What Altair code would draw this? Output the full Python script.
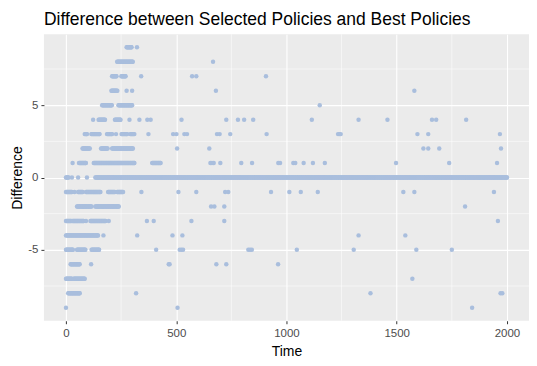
import altair as alt
import pandas as pd

# Dense runs (value, first time, last time)
RUN_DIFF = [9, 9, 8, 7, 7, 7, 6, 6, 6, 5, 5,
            4, 4, 4, 4, 4, 4, 4,
            3, 3, 3, 3, 3, 3, 3,
            2, 2, 2,
            1, 1, 1, 1,
            0, 0, 0, 0, 0,
            -1, -1, -1, -1, -1, -1, -1,
            -2, -2,
            -3, -3, -3, -3, -3, -3, -3,
            -4, -4, -4,
            -5, -5, -5, -5,
            -6, -6, -6,
            -7, -7,
            -8, -8,
            -9]
RUN_START = [275, 322, 232, 209, 251, 341, 206, 275, 300, 164, 238,
             123, 148, 222, 288, 333, 369, 384,
             85, 115, 186, 227, 252, 292, 374,
             75, 159, 209,
             30, 59, 126, 391,
             0, 27, 55, 95, 133,
             0, 39, 55, 91, 191, 232, 342,
             50, 133,
             0, 30, 91, 111, 194, 367, 398,
             0, 170, 323,
             0, 50, 116, 409,
             21, 114, 466,
             0, 35,
             10, 318,
             0]
RUN_END = [297, 322, 303, 229, 270, 341, 233, 275, 300, 208, 300,
           123, 177, 247, 288, 333, 369, 384,
           95, 152, 209, 227, 277, 310, 374,
           108, 189, 303,
           30, 90, 310, 429,
           12, 27, 55, 95, 2000,
           27, 39, 76, 156, 221, 259, 342,
           116, 239,
           24, 80, 91, 179, 194, 367, 398,
           145, 170, 323,
           31, 88, 150, 409,
           62, 114, 466,
           26, 85,
           62, 318,
           0]

# Isolated points
SPARSE_TIME = [667,
               572, 591, 907,
               680, 1580,
               1151,
               524, 727, 780, 808, 849, 1115, 1327, 1458, 1660, 1679, 1815,
               486, 501, 537, 549, 685, 697, 745, 910, 1234, 1240, 1246, 1594, 1643, 1968,
               504, 650, 1621, 1643, 1693, 1973,
               655, 662, 670, 700, 795, 844, 963, 971, 1031, 1040, 1078, 1120, 1174, 1497, 1738, 1955,
               510, 591, 722, 736, 930, 1013, 1065, 1142, 1530, 1580, 1941,
               658, 673, 718, 1810,
               569, 718, 1959,
               483, 528, 1327, 1539,
               516, 524, 531, 827, 835, 843, 1047, 1305, 1589, 1750,
               470, 682, 727, 962,
               1571,
               1381, 1971, 1979,
               506, 1842]
SPARSE_DIFF = [8,
               7, 7, 7,
               6, 6,
               5,
               4, 4, 4, 4, 4, 4, 4, 4, 4, 4, 4,
               3, 3, 3, 3, 3, 3, 3, 3, 3, 3, 3, 3, 3, 3,
               2, 2, 2, 2, 2, 2,
               1, 1, 1, 1, 1, 1, 1, 1, 1, 1, 1, 1, 1, 1, 1, 1,
               -1, -1, -1, -1, -1, -1, -1, -1, -1, -1, -1,
               -2, -2, -2, -2,
               -3, -3, -3,
               -4, -4, -4, -4,
               -5, -5, -5, -5, -5, -5, -5, -5, -5, -5,
               -6, -6, -6, -6,
               -7,
               -8, -8, -8,
               -9, -9]

X_MAJOR = [0, 500, 1000, 1500, 2000]
X_MINOR = [250, 750, 1250, 1750]
Y_MAJOR = [-5, 0, 5]
Y_MINOR = [-7.5, -2.5, 2.5, 7.5]

STEP = 3
times, diffs = [], []
for v, s, e in zip(RUN_DIFF, RUN_START, RUN_END):
    t = s
    while t <= e:
        times.append(t)
        diffs.append(v)
        t += STEP
    if times[-1] != e:
        times.append(e)
        diffs.append(v)
times += SPARSE_TIME
diffs += SPARSE_DIFF
df = pd.DataFrame({"Time": times, "Difference": diffs})

FONT = "Liberation Sans"
xscale = alt.Scale(domain=[-100, 2100], nice=False, zero=False)
yscale = alt.Scale(domain=[-9.9, 9.9], nice=False, zero=False)
xaxis = alt.Axis(values=X_MAJOR, title="Time", labelExpr="datum.value")
yaxis = alt.Axis(values=Y_MAJOR, title="Difference", labelExpr="datum.value")

points = alt.Chart(df).mark_circle(
    size=20, color="#A9BEDD", opacity=1
).encode(
    x=alt.X("Time:Q", scale=xscale, axis=xaxis),
    y=alt.Y("Difference:Q", scale=yscale, axis=yaxis),
)

minor_x = alt.Chart(pd.DataFrame({"v": X_MINOR})).mark_rule(
    color="white", strokeWidth=0.55
).encode(x=alt.X("v:Q", scale=xscale, axis=xaxis))
minor_y = alt.Chart(pd.DataFrame({"v": Y_MINOR})).mark_rule(
    color="white", strokeWidth=0.55
).encode(y=alt.Y("v:Q", scale=yscale, axis=yaxis))

chart = alt.layer(minor_x, minor_y, points).properties(
    width=486,
    height=287,
    title=alt.TitleParams(
        "Difference between Selected Policies and Best Policies",
        anchor="start", frame="group", fontSize=17.5, font=FONT,
        fontWeight="normal", color="black", offset=6,
    ),
    autosize=alt.AutoSizeParams(type="none"),
    padding={"left": 36, "top": 26, "right": 0, "bottom": 40},
).configure_view(
    fill="#EBEBEB", stroke=None
).configure_axis(
    grid=True, gridColor="white", gridWidth=1.1,
    domain=False, tickColor="#333333", tickSize=3, tickWidth=1,
    labelFont=FONT, labelFontSize=11.5, labelColor="#4D4D4D", labelPadding=3,
    titleFont=FONT, titleFontSize=14, titleFontWeight="normal", titleColor="black",
).configure_axisX(
    titlePadding=5, labelPadding=4
).configure_axisY(
    titlePadding=3
)

chart.save("out.html", embed_options={"renderer": "svg", "actions": False})
